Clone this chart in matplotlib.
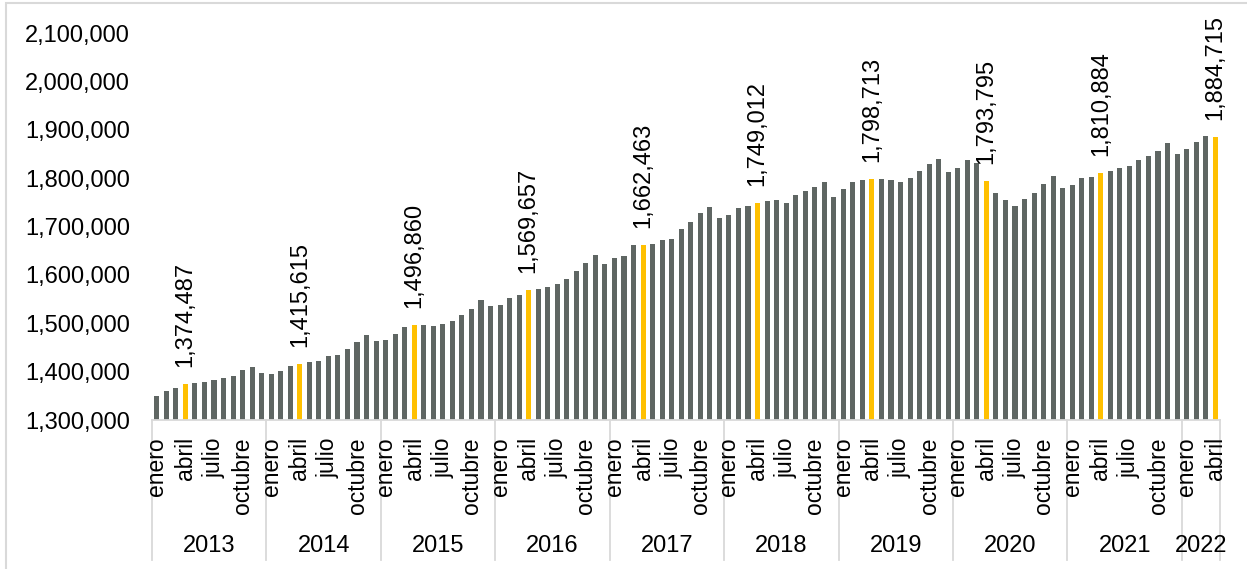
import matplotlib.pyplot as plt
from matplotlib.patches import Rectangle
from matplotlib.ticker import FuncFormatter

plt.rcParams['font.family'] = ['Liberation Sans', 'DejaVu Sans']

years = ['2013', '2014', '2015', '2016', '2017', '2018', '2019', '2020', '2021', '2022']
months = ['enero', 'febrero', 'marzo', 'abril', 'mayo', 'junio', 'julio',
          'agosto', 'septiembre', 'octubre', 'noviembre', 'diciembre']

# monthly values, enero 2013 .. abril 2022
v2013 = [1350200, 1359100, 1366100, 1374487, 1377200, 1379200, 1382700, 1386900, 1391000, 1403400, 1409600, 1396500]
v2014 = [1395100, 1401300, 1411600, 1415615, 1419900, 1421900, 1432200, 1434300, 1446700, 1461100, 1475600, 1462600]
v2015 = [1465300, 1477600, 1492700, 1496860, 1495500, 1493500, 1497600, 1504500, 1516200, 1529200, 1547200, 1534800]
v2016 = [1537500, 1551900, 1558100, 1569657, 1569800, 1575200, 1581400, 1591100, 1607600, 1625500, 1642100, 1622900]
v2017 = [1634700, 1638500, 1661200, 1662463, 1663300, 1672200, 1675000, 1694200, 1708700, 1727200, 1739600, 1716900]
v2018 = [1723800, 1738200, 1743100, 1749012, 1752000, 1754700, 1749300, 1765800, 1773300, 1781500, 1791200, 1760300]
v2019 = [1777400, 1791800, 1795300, 1798713, 1798000, 1795300, 1791200, 1799500, 1814500, 1829000, 1839300, 1811800]
v2020 = [1820700, 1837200, 1831000, 1793795, 1769100, 1754100, 1741700, 1757600, 1769100, 1788500, 1803600, 1780000]
v2021 = [1785300, 1799500, 1802200, 1810884, 1814500, 1820100, 1824900, 1836600, 1846300, 1856600, 1871700, 1849000]
v2022 = [1859300, 1873700, 1886100, 1884715]

values = v2013 + v2014 + v2015 + v2016 + v2017 + v2018 + v2019 + v2020 + v2021 + v2022
n = len(values)
month_names = [months[i % 12] for i in range(n)]

gray = '#5f6663'
yellow = '#ffc000'
line_c = '#d9d9d9'

fig = plt.figure(figsize=(12.47, 5.69), dpi=100)
W, H = 1247, 569
ax = fig.add_axes([152 / W, (H - 420) / H, (1220 - 152) / W, (420 - 33) / H])

colors = [yellow if m == 'abril' else gray for m in month_names]
x = list(range(n))
ax.bar(x, values, width=0.53, color=colors, edgecolor='none', bottom=0)

ax.set_ylim(1300000, 2100000)
ax.set_xlim(-0.5, n - 0.5)
ax.set_yticks(range(1300000, 2100001, 100000))
ax.yaxis.set_major_formatter(FuncFormatter(lambda v, p: f'{int(v):,}'))
ax.tick_params(axis='y', length=0, pad=16, labelsize=17)
ax.set_xticks([])
for s in ['top', 'right', 'left']:
    ax.spines[s].set_visible(False)
ax.spines['bottom'].set_color(line_c)
ax.spines['bottom'].set_linewidth(1.3)

# labels on the april bars
for i, v in enumerate(values):
    if month_names[i] == 'abril':
        ax.annotate(f'{v:,}', (i, v), xytext=(0, 12), textcoords='offset points',
                    rotation=90, ha='center', va='bottom', fontsize=17,
                    annotation_clip=False)

# category axis: months and years
trans = ax.get_xaxis_transform()
for i in range(n):
    if i % 3 == 0:
        ax.text(i, -0.044, month_names[i], transform=trans, rotation=90,
                ha='center', va='top', fontsize=16.5)

bounds = [-0.5]
for k in range(len(years)):
    bounds.append(min(bounds[-1] + 12, n - 0.5))
for b in bounds:
    ax.plot([b, b], [0, -0.362], transform=trans, color=line_c, lw=1.3, clip_on=False)
for k, yr in enumerate(years):
    ax.text((bounds[k] + bounds[k + 1]) / 2, -0.325, yr, transform=trans,
            ha='center', va='center', fontsize=17)

# chart frame
fig.patches.append(Rectangle((6 / W, -0.05), 1.2, 1 - 3 / H + 0.05, transform=fig.transFigure,
                             fill=False, edgecolor=line_c, lw=1.5))

fig.savefig('out.png', dpi=100)
